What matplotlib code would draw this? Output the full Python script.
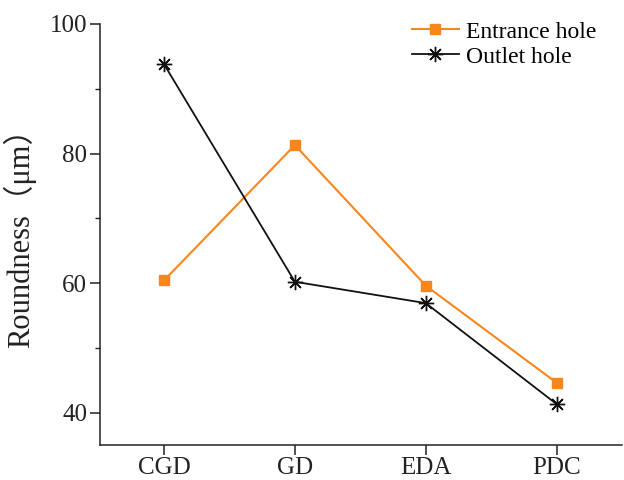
import matplotlib
matplotlib.use("Agg")
import matplotlib.pyplot as plt
from matplotlib.ticker import MultipleLocator

categories = ["CGD", "GD", "EDA", "PDC"]
entrance = [60.4, 81.3, 59.6, 44.6]
outlet = [93.8, 60.2, 56.9, 41.3]

plt.rcParams['font.family'] = ['Liberation Serif', 'Noto Sans CJK SC', 'DejaVu Sans']

fig = plt.figure(figsize=(6.24, 4.8), dpi=100)
ax = fig.add_axes([0.160, 0.073, 0.837, 0.877])

x = list(range(len(categories)))
ax.plot(x, entrance, color='#F7861C', lw=1.5, marker='s', ms=6.5,
        label='Entrance hole', zorder=3)
ax.plot(x, outlet, color='#111111', lw=1.3, marker=(8, 2, 0), ms=11,
        mew=1.0, label='Outlet hole', zorder=4)

ax.set_xlim(-0.49, 3.5)
ax.set_ylim(35, 100)
ax.set_xticks(x)
ax.set_xticklabels(categories)
ax.set_yticks([40, 60, 80, 100])
ax.yaxis.set_minor_locator(MultipleLocator(10))

for s in ['top', 'right']:
    ax.spines[s].set_visible(False)
for s in ['left', 'bottom']:
    ax.spines[s].set_linewidth(1.1)
    ax.spines[s].set_color('#222222')

ax.tick_params(axis='both', which='major', direction='out', length=7, width=1.1,
               labelsize=18, colors='#222222')
ax.tick_params(axis='y', which='major', pad=2)
ax.tick_params(axis='x', which='major', pad=2)
ax.tick_params(axis='y', which='minor', direction='out', length=3.6, width=1.0, colors='#222222')
ax.set_ylabel('Roundness（μm）', fontsize=22, color='#222222')
ax.yaxis.set_label_coords(-0.122, 0.51)

leg = ax.legend(loc='upper left', bbox_to_anchor=(0.660, 0.956), bbox_transform=fig.transFigure,
                frameon=False, borderpad=0, borderaxespad=0,
                fontsize=17, handlelength=2.0, handletextpad=0.3, labelspacing=0.15)

fig.savefig('out.png', dpi=100)
